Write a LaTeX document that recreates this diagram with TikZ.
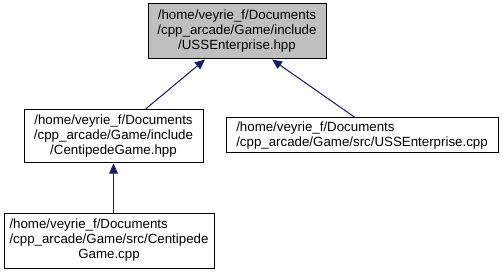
\documentclass[tikz,border=0pt]{standalone}
\usepackage{fontspec}
\setmainfont{Liberation Sans}
\definecolor{edgeblue}{RGB}{25,25,112}
\definecolor{hlgray}{RGB}{191,191,191}
\usepackage{tikz}
\usetikzlibrary{positioning,shapes,arrows.meta}

\begin{document}
\begin{tikzpicture}[
    filebox/.style={rectangle, draw=black, fill=white, line width=0.03cm, inner sep=0pt, font=\fontsize{11.36}{12.8}\selectfont},
    incl/.style={-{Triangle[length=0.3cm,width=0.26cm]}, draw=edgeblue, fill=edgeblue, line width=0.03cm}
]
\useasboundingbox (0,0) rectangle (15.09,8.25);

% Header being included
\node[filebox, fill=hlgray, minimum width=5.34cm, minimum height=1.65cm, align=center] (usshpp) at (7.11,7.305)
    {/home/veyrie\_f/Documents\\/cpp\_arcade/Game/include\\/USSEnterprise.hpp};

% Game header
\node[filebox, minimum width=5.37cm, minimum height=1.59cm, align=center] (centhpp) at (3.405,4.155)
    {/home/veyrie\_f/Documents\\/cpp\_arcade/Game/include\\/CentipedeGame.hpp};

% Enterprise source
\node[filebox, minimum width=8.16cm, minimum height=1.05cm, align=left] (usscpp) at (10.86,4.185)
    {/home/veyrie\_f/Documents\\/cpp\_arcade/Game/src/USSEnterprise.cpp};

% Game source
\node[filebox, minimum width=6.3cm, minimum height=1.65cm] (centcpp) at (3.27,1.035)
    {\begin{tabular}{@{}l@{}}/home/veyrie\_f/Documents\\/cpp\_arcade/Game/src/Centipede\\\multicolumn{1}{@{}c@{}}{Game.cpp}\end{tabular}};

% Includes
\draw[incl] ([xshift=0.945cm]centhpp.north) -- ([xshift=-0.96cm]usshpp.south);
\draw[incl] ([xshift=-0.21cm]usscpp.north) -- ([xshift=1.05cm]usshpp.south);
\draw[incl] (centcpp.north -| centhpp.south) -- (centhpp.south);

\end{tikzpicture}
\end{document}
